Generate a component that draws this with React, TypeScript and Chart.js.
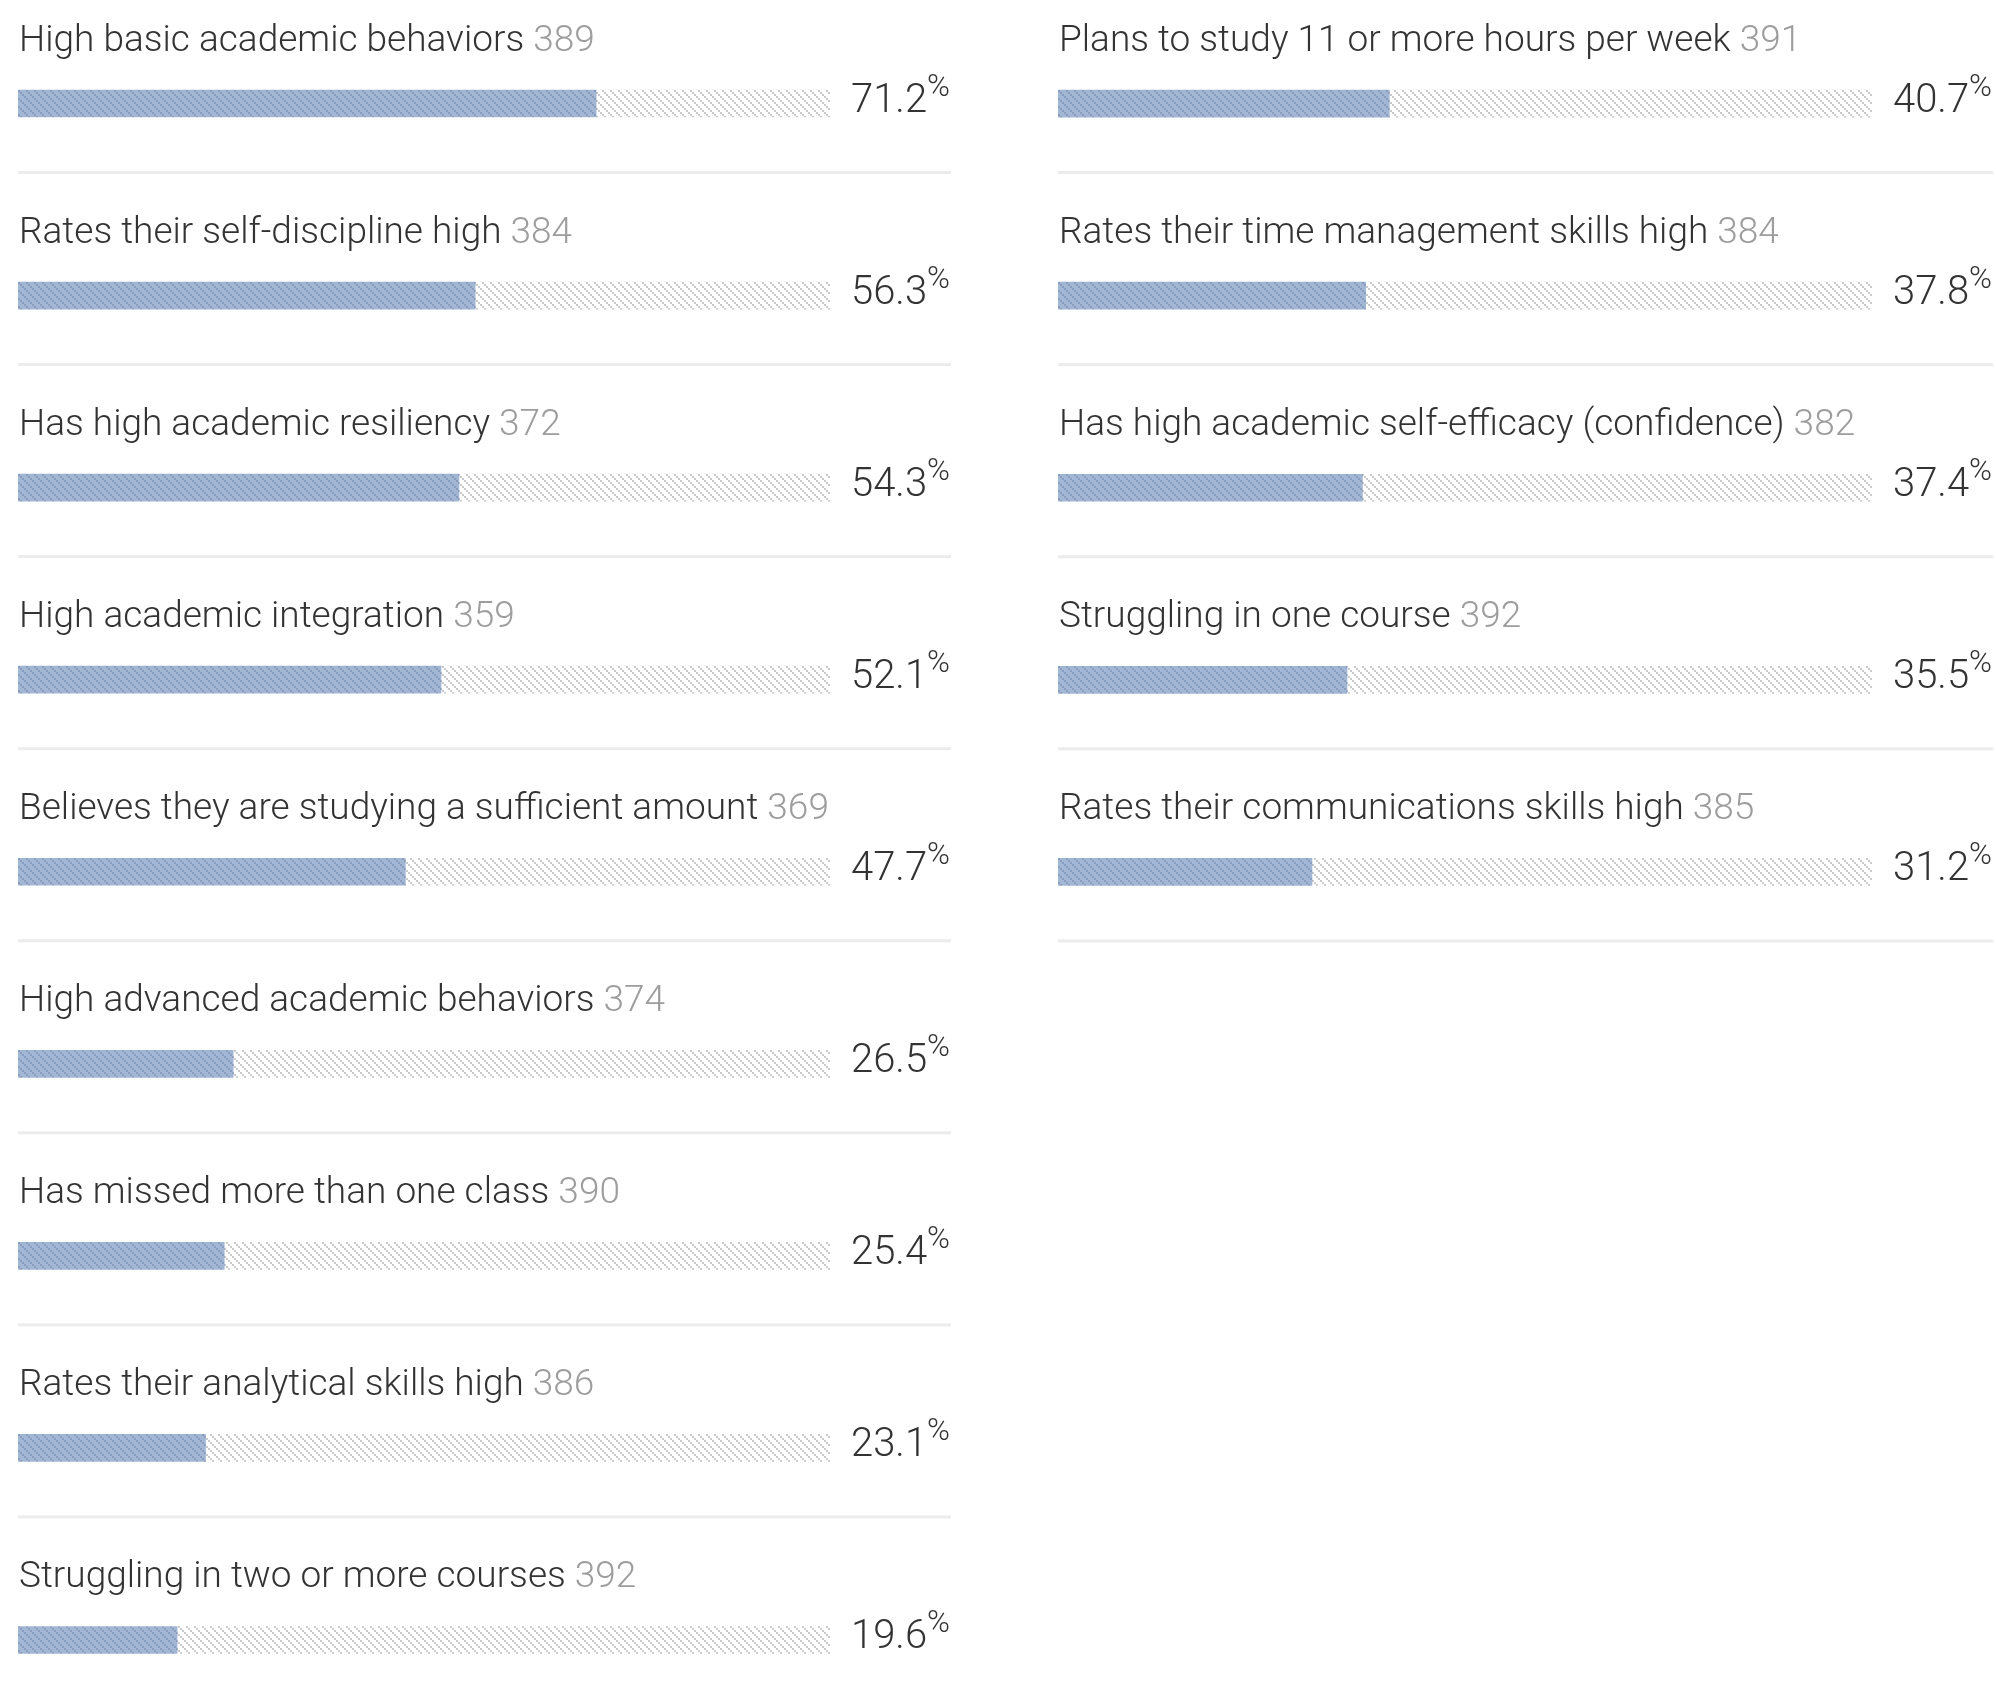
import React, { useEffect, useRef } from 'react';
import { Chart, registerables } from 'chart.js';

Chart.register(...registerables);

// left column
const leftLabels = [
  'High basic academic behaviors',
  'Rates their self-discipline high',
  'Has high academic resiliency',
  'High academic integration',
  'Believes they are studying a sufficient amount',
  'High advanced academic behaviors',
  'Has missed more than one class',
  'Rates their analytical skills high',
  'Struggling in two or more courses',
];
const leftCounts = [389, 384, 372, 359, 369, 374, 390, 386, 392];
const leftValues = [71.2, 56.3, 54.3, 52.1, 47.7, 26.5, 25.4, 23.1, 19.6];

// right column
const rightLabels = [
  'Plans to study 11 or more hours per week',
  'Rates their time management skills high',
  'Has high academic self-efficacy (confidence)',
  'Struggling in one course',
  'Rates their communications skills high',
];
const rightCounts = [391, 384, 382, 392, 385];
const rightValues = [40.7, 37.8, 37.4, 35.5, 31.2];

const ROW = 192;
const TOP = 7.5;
const FONT = 'Roboto';

function makePattern(base: string, line: string) {
  const c = document.createElement('canvas');
  c.width = 8;
  c.height = 8;
  const g = c.getContext('2d')!;
  g.fillStyle = base;
  g.fillRect(0, 0, 8, 8);
  g.fillStyle = line;
  for (let i = 0; i < 8; i += 2) g.fillRect(i, i, 2, 2);
  return g.createPattern(c, 'repeat')!;
}

const rowsPlugin = {
  id: 'rows',
  afterDatasetsDraw(chart: any, _args: any, opts: any) {
    const { ctx, chartArea } = chart;
    const y = chart.scales.y;
    const { counts, values } = opts;
    const labels: string[] = chart.data.labels;
    ctx.save();
    labels.forEach((label, i) => {
      const cy = y.getPixelForValue(i);
      // separator
      ctx.fillStyle = '#ececec';
      ctx.fillRect(chartArea.left, cy + 67.5, chartArea.right + 121 - chartArea.left, 3);
      // title + count
      ctx.textBaseline = 'alphabetic';
      ctx.textAlign = 'left';
      ctx.font = `300 37px ${FONT}`;
      ctx.fillStyle = '#333333';
      const t = label + ' ';
      ctx.fillText(t, chartArea.left + 1, cy - 52.5);
      const w = ctx.measureText(t).width;
      ctx.fillStyle = '#9d9d9d';
      ctx.fillText(String(counts[i]), chartArea.left + 1 + w, cy - 52.5);
      // value with superscript %
      const right = chartArea.right + 120;
      ctx.textAlign = 'right';
      ctx.font = `300 31px ${FONT}`;
      ctx.fillStyle = '#333333';
      ctx.fillText('%', right, cy - 8);
      const pw = ctx.measureText('%').width;
      ctx.font = `300 40px ${FONT}`;
      ctx.fillText(values[i].toFixed(1), right - pw, cy + 8.5);
    });
    ctx.restore();
  },
};

interface ColumnProps {
  labels: string[];
  counts: number[];
  values: number[];
  left: number;
  width: number;
  padRight: number;
}

const Column: React.FC<ColumnProps> = ({ labels, counts, values, left, width, padRight }) => {
  const ref = useRef<HTMLCanvasElement>(null);
  const height = Math.ceil(TOP + labels.length * ROW);

  useEffect(() => {
    if (!ref.current) return;
    const blue = makePattern('#a3b6d3', '#889ec0');
    const grey = makePattern('#ffffff', '#c9c9c9');
    const chart = new Chart(ref.current, {
      type: 'bar',
      data: {
        labels,
        datasets: [
          {
            data: values,
            backgroundColor: blue,
            borderWidth: 0,
            barThickness: 27,
          },
          {
            data: values.map(v => 100 - v),
            backgroundColor: grey,
            borderWidth: 0,
            barThickness: 27,
          },
        ],
      },
      options: {
        indexAxis: 'y',
        responsive: false,
        animation: false,
        devicePixelRatio: 1,
        layout: { padding: { left: 18, right: padRight, top: TOP, bottom: 0 } },
        scales: {
          x: { min: 0, max: 100, stacked: true, display: false },
          y: { stacked: true, display: false },
        },
        plugins: {
          legend: { display: false },
          tooltip: { enabled: false },
          rows: { counts, values },
        } as any,
      },
      plugins: [rowsPlugin],
    });
    return () => chart.destroy();
  }, []);

  return (
    <canvas
      ref={ref}
      width={width}
      height={height}
      style={{ position: 'absolute', left, top: 0, width, height }}
    />
  );
};

export default function App() {
  return (
    <div
      style={{
        position: 'absolute',
        left: 0,
        top: 0,
        width: 1996,
        height: 1692,
        overflow: 'hidden',
        background: '#ffffff',
      }}
    >
      <Column labels={leftLabels} counts={leftCounts} values={leftValues} left={0} width={976} padRight={146} />
      <Column labels={rightLabels} counts={rightCounts} values={rightValues} left={1040} width={956} padRight={124} />
    </div>
  );
}
